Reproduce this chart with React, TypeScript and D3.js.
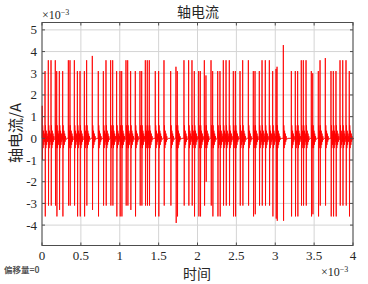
import React from "react";
import * as d3 from "d3";

const spikeTimes = [
  0.003, 0.039, 0.081, 0.116, 0.171, 0.189, 0.223, 0.266, 0.339, 0.36, 0.416, 0.455, 0.489, 0.545, 0.574,
  0.647, 0.724, 0.789, 0.823, 0.883, 0.909, 0.96, 1.003, 1.025, 1.08, 1.102, 1.14, 1.2, 1.26, 1.282,
  1.329, 1.354, 1.38, 1.457, 1.5, 1.569, 1.655, 1.723, 1.74, 1.826, 1.886, 1.929, 1.959, 2.015, 2.036,
  2.088, 2.109, 2.174, 2.195, 2.26, 2.289, 2.332, 2.367, 2.409, 2.461, 2.487, 2.547, 2.581, 2.654, 2.718,
  2.74, 2.795, 2.83, 2.872, 2.924, 2.967, 3.01, 3.023, 3.104, 3.207, 3.258, 3.288, 3.335, 3.361, 3.396,
  3.464, 3.482, 3.554, 3.576, 3.644, 3.717, 3.747, 3.781, 3.833, 3.868, 3.91, 3.952,
];
const spikePos = [
  1.5, 3.1, 3.6, 3.6, 3.6, 3.1, 3.1, 3.1, 3.6, 3.6, 3.6, 3.1, 3.1, 3.1, 3.6,
  3.8, 3.1, 3.1, 3.6, 3.6, 3.6, 3.1, 3.1, 3.1, 3.6, 3.6, 3.1, 3.1, 3.1, 3.1,
  3.6, 3.6, 3.6, 3.1, 3.1, 3.6, 3.1, 3.3, 3.1, 3.6, 3.6, 3.6, 3.1, 3.1, 3.1,
  3.6, 2.9, 3.6, 3.1, 3.1, 3.1, 3.6, 3.6, 3.6, 3.1, 3.1, 3.1, 3.6, 3.6, 3.1,
  3.1, 3.1, 3.6, 3.6, 3.6, 3.1, 3.2, 3.3, 4.3, 3.1, 3.1, 3.1, 3.6, 3.6, 3.6,
  3.1, 3.0, 3.1, 3.6, 3.7, 3.1, 3.1, 3.1, 3.6, 3.6, 3.6, 3.1,
];
const spikeNeg = [
  1.0, 3.6, 3.1, 3.1, 3.1, 3.6, 3.3, 3.6, 3.1, 3.1, 3.1, 3.6, 3.6, 3.6, 3.1,
  3.3, 3.6, 3.1, 3.1, 3.1, 3.1, 3.6, 3.6, 3.6, 3.1, 3.1, 3.3, 3.6, 3.1, 3.1,
  3.1, 3.1, 3.1, 3.6, 3.6, 3.1, 3.1, 3.9, 3.6, 3.1, 3.1, 3.1, 3.6, 3.6, 3.6,
  3.1, 2.0, 3.1, 3.6, 3.6, 3.6, 3.1, 3.1, 3.1, 3.6, 3.6, 3.1, 3.1, 3.1, 3.6,
  3.5, 3.1, 3.1, 3.1, 3.1, 3.6, 3.7, 3.8, 3.8, 3.6, 3.6, 3.6, 3.1, 3.1, 3.1,
  3.6, 3.5, 3.6, 3.1, 3.1, 3.6, 3.6, 3.6, 3.1, 3.1, 3.1, 3.6,
];
const ringing = [0.6, -0.45, 0.35, -0.3, 0.22, -0.16, 0.1, -0.06];

const xTicks = [0, 0.5, 1, 1.5, 2, 2.5, 3, 3.5, 4];
const xTickLabels = ["0", "0.5", "1", "1.5", "2", "2.5", "3", "3.5", "4"];
const yTicks = [-4, -3, -2, -1, 0, 1, 2, 3, 4, 5];
const xDomain = [0, 4];
const yDomain = [-4.94, 5.34];

const title = "轴电流";
const xLabel = "时间";
const yLabel = "轴电流/A";
const offsetLabel = "偏移量=0";

const W = 368, H = 284;
const L = 42, R = 353, T = 22.5, B = 245.5;

export default function App() {
  const x = d3.scaleLinear().domain(xDomain).range([L, R]);
  const y = d3.scaleLinear().domain(yDomain).range([B, T]);

  const pts: [number, number][] = [[0, 0]];
  spikeTimes.forEach((t, i) => {
    pts.push([Math.max(0, t - 0.002), 0]);
    pts.push([t, spikePos[i]]);
    pts.push([t + 0.003, -spikeNeg[i]]);
    ringing.forEach((v, k) => pts.push([t + 0.006 + 0.005 * k, v]));
    pts.push([t + 0.06, 0]);
  });
  pts.push([4, 0]);
  const line = d3
    .line<[number, number]>()
    .x((d) => x(d[0]))
    .y((d) => y(d[1]));

  const serif = "'Liberation Serif', 'Times New Roman', serif";
  const cjk = "'Noto Sans CJK SC', sans-serif";

  return (
    <svg width={W} height={H} style={{ position: "absolute", left: 0, top: 0, background: "#fff" }}>
      <rect x={0} y={0} width={W} height={H} fill="#fff" />
      {xTicks.map((t) => (
        <line key={"gx" + t} x1={x(t)} x2={x(t)} y1={T} y2={B} stroke="#d4d4d4" strokeWidth={1} />
      ))}
      {yTicks.map((t) => (
        <line key={"gy" + t} x1={L} x2={R} y1={y(t)} y2={y(t)} stroke="#d4d4d4" strokeWidth={1} />
      ))}
      <path d={line(pts) || ""} fill="none" stroke="#ff0000" strokeWidth={0.85} strokeLinejoin="miter" />
      <rect x={L} y={T} width={R - L} height={B - T} fill="none" stroke="#4d4d4d" strokeWidth={1} />
      {xTicks.map((t) => (
        <g key={"tx" + t}>
          <line x1={x(t)} x2={x(t)} y1={B} y2={B - 3} stroke="#4d4d4d" />
          <line x1={x(t)} x2={x(t)} y1={T} y2={T + 3} stroke="#4d4d4d" />
        </g>
      ))}
      {yTicks.map((t) => (
        <g key={"ty" + t}>
          <line x1={L} x2={L + 3} y1={y(t)} y2={y(t)} stroke="#4d4d4d" />
          <line x1={R} x2={R - 3} y1={y(t)} y2={y(t)} stroke="#4d4d4d" />
        </g>
      ))}
      {xTicks.map((t, i) => (
        <text key={"lx" + t} x={x(t)} y={260} textAnchor="middle" fontFamily={serif} fontSize={13} fill="#262626">
          {xTickLabels[i]}
        </text>
      ))}
      {yTicks.map((t) => (
        <text key={"ly" + t} x={37} y={y(t) + 4.5} textAnchor="end" fontFamily={serif} fontSize={13} fill="#262626">
          {t}
        </text>
      ))}
      <text x={42} y={19} fontFamily={serif} fontSize={12} fill="#262626">
        ×10<tspan dy={-4} fontSize={8}>−3</tspan>
      </text>
      <text x={321} y={276} fontFamily={serif} fontSize={12} fill="#262626">
        ×10<tspan dy={-4} fontSize={8}>−3</tspan>
      </text>
      <text x={198} y={17} textAnchor="middle" fontFamily={cjk} fontSize={14} fill="#262626">
        {title}
      </text>
      <text x={197} y={279} textAnchor="middle" fontFamily={cjk} fontSize={14} fill="#262626">
        {xLabel}
      </text>
      <text
        transform={`translate(21, 133) rotate(-90)`}
        textAnchor="middle"
        fontFamily={cjk}
        fontSize={15}
        fill="#262626"
      >
        {yLabel}
      </text>
      <text x={4} y={273} fontFamily={cjk} fontSize={8.5} fill="#555" fontWeight="bold">
        {offsetLabel}
      </text>
    </svg>
  );
}
